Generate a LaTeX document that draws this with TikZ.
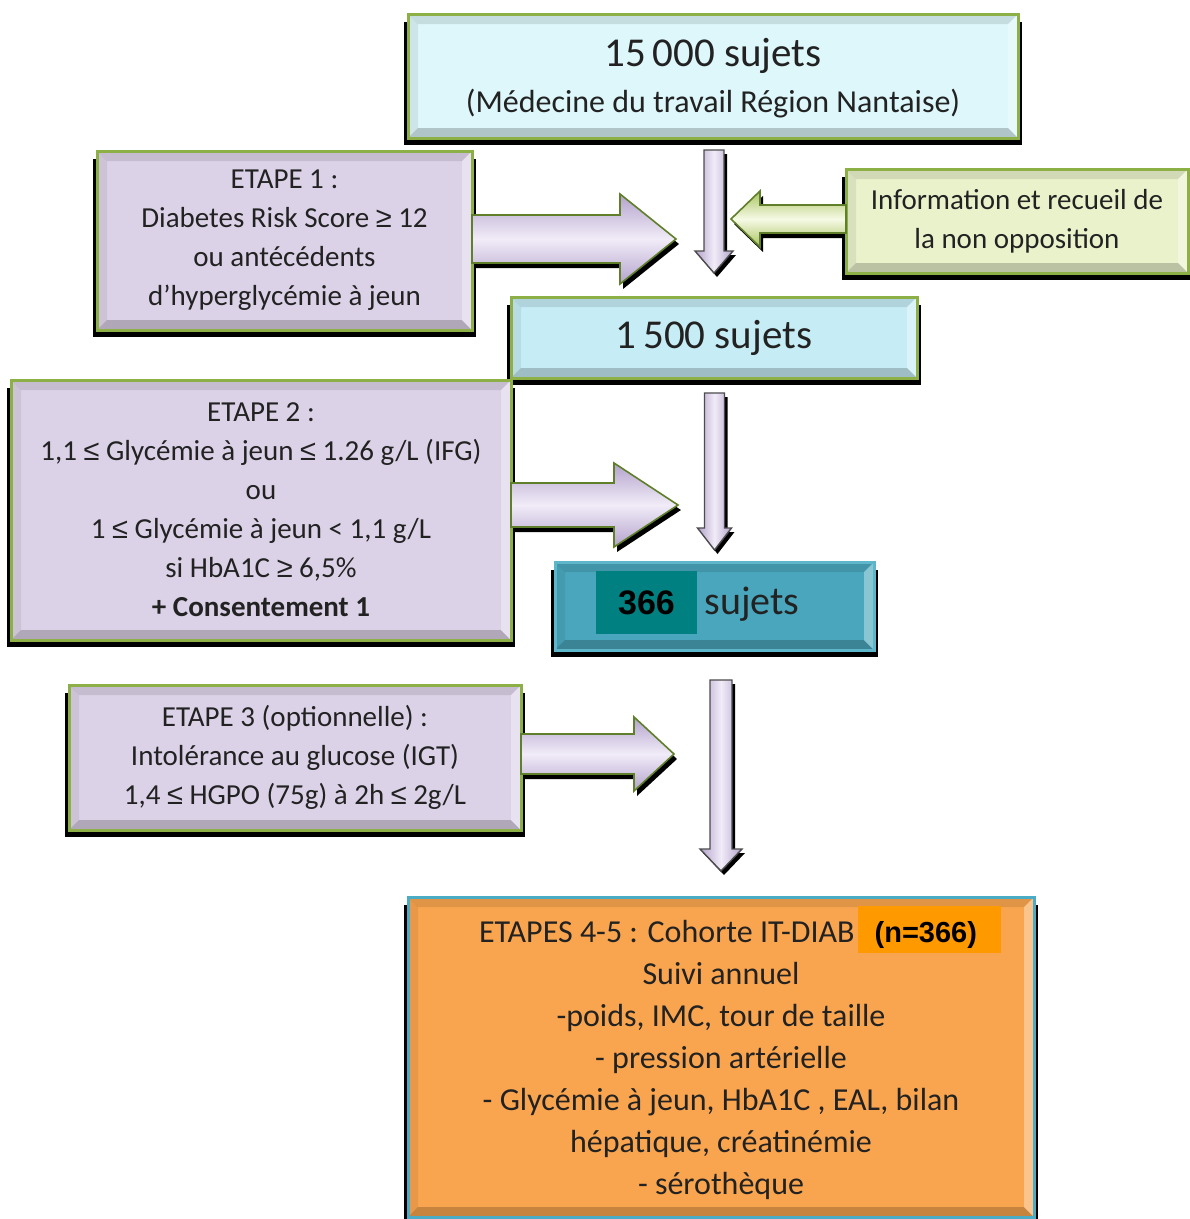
\documentclass[tikz,border=0pt]{standalone}
\usepackage{fontspec}
\setmainfont{Carlito}
\newfontfamily\arialfont{Liberation Sans}
\usetikzlibrary{calc}
\pgfdeclarelayer{bglayer}
\pgfdeclarelayer{shadowlayer}
\pgfsetlayers{bglayer,shadowlayer,main}

\definecolor{txt}{HTML}{222222}
\definecolor{topfill}{HTML}{DDF7FA}
\definecolor{lavfill}{HTML}{DCD2E8}
\definecolor{infofill}{HTML}{EAF2CC}
\definecolor{cyanfill}{HTML}{C6EDF5}
\definecolor{tealfill}{HTML}{4AA6BC}
\definecolor{tealhl}{HTML}{008080}
\definecolor{orangefill}{HTML}{F9A54F}
\definecolor{orangehl}{HTML}{FF9900}
\definecolor{greenborder}{HTML}{8DB046}
\definecolor{blueborder}{HTML}{4BACC6}
\definecolor{tealborder}{HTML}{5DB6CA}
\definecolor{lavD}{HTML}{B3A2CC}
\definecolor{lavM}{HTML}{F1ECF8}
\definecolor{grnD}{HTML}{A9C35E}
\definecolor{grnM}{HTML}{F6FAE6}
\definecolor{olive}{HTML}{5F7F2A}

\newcommand\sge{{\arialfont ≥}}
\newcommand\sle{{\arialfont ≤}}

% shadow, bevel and border of a box node
\newcommand\boxdeco[3]{%
  \begin{pgfonlayer}{shadowlayer}
    \fill[black] ($(#1.north west)+(-4,8)$) rectangle ($(#1.south east)+(4,7)$);
  \end{pgfonlayer}
  \fill[black,opacity=.10] (#1.north west) -- (#1.north east) -- ($(#1.north east)+(-#2,#2)$) -- ($(#1.north west)+(#2,#2)$) -- cycle;
  \fill[black,opacity=.07] (#1.north west) -- ($(#1.north west)+(#2,#2)$) -- ($(#1.south west)+(#2,-#2)$) -- (#1.south west) -- cycle;
  \fill[black,opacity=.20] (#1.south west) -- ($(#1.south west)+(#2,-#2)$) -- ($(#1.south east)+(-#2,-#2)$) -- (#1.south east) -- cycle;
  \fill[white,opacity=.35] (#1.south east) -- ($(#1.south east)+(-#2,-#2)$) -- ($(#1.north east)+(-#2,#2)$) -- (#1.north east) -- cycle;
  \draw[#3,line width=3] (#1.north west) rectangle (#1.south east);
}

% right-pointing block arrow from a node's east side to a tip coordinate
\newcommand\rarrowpath[6]{%
  \path let \p1=(#1.east), \p2=(#2) in [#6]
   (\x1,\y2+#3pt) -- (\x2-#5pt,\y2+#3pt) -- (\x2-#5pt,\y2+#4pt) -- (\x2,\y2)
   -- (\x2-#5pt,\y2-#4pt) -- (\x2-#5pt,\y2-#3pt) -- (\x1,\y2-#3pt) -- cycle;}
\newcommand\rarrow[6]{%
  \begin{pgfonlayer}{shadowlayer}\rarrowpath{#1}{#2}{#3}{#4}{#5}{fill=black,shift={(3,5)}}\end{pgfonlayer}
  \rarrowpath{#1}{#2}{#3}{#4}{#5}{#6}}

% left-pointing block arrow from a node's west side to a tip coordinate
\newcommand\larrowpath[6]{%
  \path let \p1=(#1.west), \p2=(#2) in [#6]
   (\x1,\y2+#3pt) -- (\x2+#5pt,\y2+#3pt) -- (\x2+#5pt,\y2+#4pt) -- (\x2,\y2)
   -- (\x2+#5pt,\y2-#4pt) -- (\x2+#5pt,\y2-#3pt) -- (\x1,\y2-#3pt) -- cycle;}
\newcommand\larrow[6]{%
  \begin{pgfonlayer}{shadowlayer}\larrowpath{#1}{#2}{#3}{#4}{#5}{fill=black,shift={(3,5)}}\end{pgfonlayer}
  \larrowpath{#1}{#2}{#3}{#4}{#5}{#6}}

% thin downward arrow from one node to the next
\newcommand\darrowpath[7]{%
  \path let \p1=(#1.south), \p2=(#2.north) in [#7]
   (\x2-#3pt,\y1-#5pt) -- (\x2+#3pt,\y1-#5pt) -- (\x2+#3pt,\y2+#6pt+22pt) -- (\x2+#4pt,\y2+#6pt+22pt)
   -- (\x2,\y2+#6pt) -- (\x2-#4pt,\y2+#6pt+22pt) -- (\x2-#3pt,\y2+#6pt+22pt) -- cycle;}
\newcommand\darrow[6]{%
  \begin{pgfonlayer}{shadowlayer}\darrowpath{#1}{#2}{#3}{#4}{#5}{#6}{fill=black,shift={(3,4)}}\end{pgfonlayer}
  \darrowpath{#1}{#2}{#3}{#4}{#5}{#6}{vshade}}

\tikzset{
  box/.style={rectangle, inner sep=0pt, outer sep=0pt, text=txt, align=center,
              font=\fontsize{29}{39}\selectfont},
  hshade/.style={top color=lavD, bottom color=lavD, middle color=lavM, draw=olive, line width=1.6},
  gshade/.style={top color=grnD, bottom color=grnD, middle color=grnM, draw=olive, line width=1.6},
  vshade/.style={left color=lavD, right color=lavD, middle color=lavM, draw=black!70, line width=1.4},
}

\begin{document}
\begin{tikzpicture}[x=1pt,y=-1pt]
\useasboundingbox (0,0) rectangle (1190,1219);
\begin{pgfonlayer}{bglayer}
  \fill[white] (0,0) rectangle (1190,1219);
\end{pgfonlayer}

% boxes
\node[box, fill=topfill, minimum width=610, minimum height=124] (top) at (713,76) {};
\boxdeco{top}{10}{greenborder}
\node[box, font=\fontsize{41}{48}\selectfont] (toptxt) at ($(top.center)+(0,2.5)$)
  {15\,000 sujets\\[-2pt]\fontsize{32}{40}\selectfont (Médecine du travail Région Nantaise)};

\node[box, fill=lavfill, minimum width=375, minimum height=179] (e1) at (284.5,240.5)
  {ETAPE 1 :\\Diabetes Risk Score \sge{} 12\\ou antécédents\\d’hyperglycémie à jeun};
\boxdeco{e1}{10}{greenborder}

\node[box, fill=infofill, minimum width=342, minimum height=104] (info) at (1017,221)
  {Information et recueil de\\la non opposition};
\boxdeco{info}{10}{greenborder}

\node[box, fill=cyanfill, minimum width=406, minimum height=81, font=\fontsize{41}{45}\selectfont] (b1500) at (714,337.5)
  {1\,500 sujets};
\boxdeco{b1500}{10}{greenborder}

\node[box, fill=lavfill, minimum width=500, minimum height=260] (e2) at (261,510)
  {ETAPE 2 :\\1,1 \sle{} Glycémie à jeun \sle{} 1.26 g/L (IFG)\\ou\\1 \sle{} Glycémie à jeun < 1,1 g/L\\si HbA1C \sge{} 6,5\%\\\textbf{+ Consentement 1}};
\boxdeco{e2}{10}{greenborder}

\node[box, fill=tealfill, minimum width=319, minimum height=88] (b366) at (714.5,606) {};
\boxdeco{b366}{10}{tealborder}
\node[fill=tealhl, minimum width=101, minimum height=63, inner sep=0pt, text=black,
      font=\arialfont\bfseries\fontsize{34}{34}\selectfont] (h366) at (646.5,602.5) {366};
\node[anchor=west, inner sep=0pt, text=txt, font=\fontsize{40}{40}\selectfont] (sj) at ($(h366.east)+(7,2)$) {sujets};

\node[box, fill=lavfill, minimum width=452, minimum height=145] (e3) at (295,757.5)
  {ETAPE 3 (optionnelle) :\\Intolérance au glucose (IGT)\\1,4 \sle{} HGPO (75g) à 2h \sle{} 2g/L};
\boxdeco{e3}{10}{greenborder}

\node[box, fill=orangefill, minimum width=626, minimum height=320] (e45) at (721,1057) {};
\boxdeco{e45}{10}{blueborder}
\node[box, font=\fontsize{32}{42}\selectfont] (e45txt) at ($(e45.center)+(0,-4)$)
  {\hspace*{38pt}ETAPES 4-5 : Cohorte IT-DIAB\hspace{3pt}{\setlength{\fboxsep}{0pt}\colorbox{orangehl}{\rule[-11pt]{0pt}{47pt}\hspace{17pt}{\arialfont\bfseries\fontsize{29}{29}\selectfont\color{black}(n=366)}\hspace{24pt}}}\\
   Suivi annuel\\-poids, IMC, tour de taille\\- pression artérielle\\- Glycémie à jeun, HbA1C , EAL, bilan\\hépatique, créatinémie\\- sérothèque};

% arrow tips
\coordinate (t1) at (676,239);
\coordinate (t2) at (678,505);
\coordinate (t3) at (674,754);
\coordinate (t4) at (731,219);

% block arrows
\rarrow{e1}{t1}{24}{45}{56}{hshade}
\rarrow{e2}{t2}{22}{42}{64}{hshade}
\rarrow{e3}{t3}{20}{37}{40}{hshade}
\larrow{info}{t4}{14}{28}{29}{gshade}

% down arrows
\darrow{top}{b1500}{10}{19}{12}{24}
\darrow{b1500}{b366}{10}{17}{15}{12}
\darrow{b366}{e45}{11}{21}{30}{26}
\end{tikzpicture}
\end{document}
